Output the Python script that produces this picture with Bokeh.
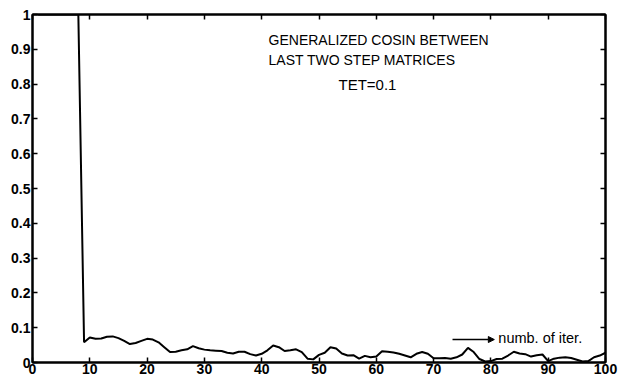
from bokeh.plotting import figure
from bokeh.models import Range1d, LinearAxis, FixedTicker, Arrow, NormalHead, Label
from bokeh.embed import file_html
from bokeh.resources import INLINE

# iteration number and generalized cosine between the last two step matrices
iterations = list(range(1, 101))
cosine = [1.0] * 8 + [
    0.058, 0.072, 0.068, 0.069, 0.074, 0.075, 0.070, 0.062, 0.053, 0.056,
    0.062, 0.068, 0.066, 0.058, 0.044, 0.030, 0.031, 0.035, 0.038, 0.047,
    0.041, 0.037, 0.035, 0.034, 0.033, 0.028, 0.026, 0.031, 0.031, 0.024,
    0.020, 0.025, 0.035, 0.049, 0.044, 0.033, 0.035, 0.038, 0.030, 0.011,
    0.009, 0.022, 0.028, 0.044, 0.040, 0.026, 0.020, 0.021, 0.011, 0.019,
    0.015, 0.017, 0.032, 0.031, 0.029, 0.025, 0.020, 0.015, 0.025, 0.030,
    0.025, 0.012, 0.012, 0.013, 0.011, 0.015, 0.023, 0.042, 0.030, 0.010,
    0.003, 0.004, 0.010, 0.011, 0.020, 0.031, 0.026, 0.024, 0.017, 0.021,
    0.023, 0.004, 0.011, 0.014, 0.015, 0.013, 0.008, 0.003, 0.004, 0.015,
    0.020, 0.028,
]

x_ticks = [0, 10, 20, 30, 40, 50, 60, 70, 80, 90, 100]
y_ticks = [0, 0.1, 0.2, 0.3, 0.4, 0.5, 0.6, 0.7, 0.8, 0.9, 1]
y_tick_labels = {0: "0", 0.1: "0.1", 0.2: "0.2", 0.3: "0.3", 0.4: "0.4",
                 0.5: "0.5", 0.6: "0.6", 0.7: "0.7", 0.8: "0.8", 0.9: "0.9", 1: "1"}

title_lines = ["GENERALIZED COSIN BETWEEN", "LAST TWO STEP MATRICES"]
param_text = "TET=0.1"
arrow_text = "numb. of iter."

FONT = "Liberation Sans"

p = figure(width=618, height=383, output_backend="svg", toolbar_location=None,
           x_range=Range1d(0, 100), y_range=Range1d(0, 1))
p.min_border_left = 32
p.min_border_right = 13
p.min_border_top = 14
p.min_border_bottom = 21
p.background_fill_color = "white"
p.border_fill_color = "white"
p.outline_line_color = "black"
p.outline_line_width = 2
p.xgrid.visible = False
p.ygrid.visible = False

p.line(iterations, cosine, line_color="black", line_width=2)


def style_axis(ax):
    ax.axis_line_color = "black"
    ax.axis_line_width = 2
    ax.major_tick_in = 5
    ax.major_tick_out = 0
    ax.minor_tick_line_color = None
    ax.major_tick_line_color = "black"
    ax.major_tick_line_width = 1.5
    ax.major_label_text_font = FONT
    ax.major_label_text_font_size = "14px"
    ax.major_label_text_font_style = "bold"
    ax.major_label_text_color = "black"


xa = p.xaxis[0]
xa.ticker = FixedTicker(ticks=x_ticks)
xa.major_label_standoff = 1
style_axis(xa)

ya = p.yaxis[0]
ya.ticker = FixedTicker(ticks=y_ticks)
ya.major_label_overrides = y_tick_labels
ya.major_label_standoff = 2
style_axis(ya)

# tick marks on the top and right edges of the frame, without labels
top = LinearAxis(ticker=FixedTicker(ticks=x_ticks))
style_axis(top)
top.major_label_text_color = None
top.major_label_standoff = 0
p.add_layout(top, "above")

right = LinearAxis(ticker=FixedTicker(ticks=y_ticks))
style_axis(right)
right.major_label_text_color = None
right.major_label_standoff = 0
p.add_layout(right, "right")

for i, line in enumerate(title_lines):
    p.add_layout(Label(x=41.2, y=0.905 - i * 0.058, text=line, text_font=FONT,
                       text_font_size="14px", text_color="black"))
p.add_layout(Label(x=53.4, y=0.773, text=param_text, text_font=FONT,
                   text_font_size="15px", text_color="black"))

p.add_layout(Arrow(x_start=73.3, y_start=0.066, x_end=80.6, y_end=0.066,
                   line_color="black", line_width=1.5,
                   end=NormalHead(size=6, fill_color="black", line_color="black")))
p.add_layout(Label(x=81.3, y=0.048, text=arrow_text, text_font=FONT,
                   text_font_size="14.5px", text_color="black"))

open("out.html", "w").write(file_html(p, INLINE))
